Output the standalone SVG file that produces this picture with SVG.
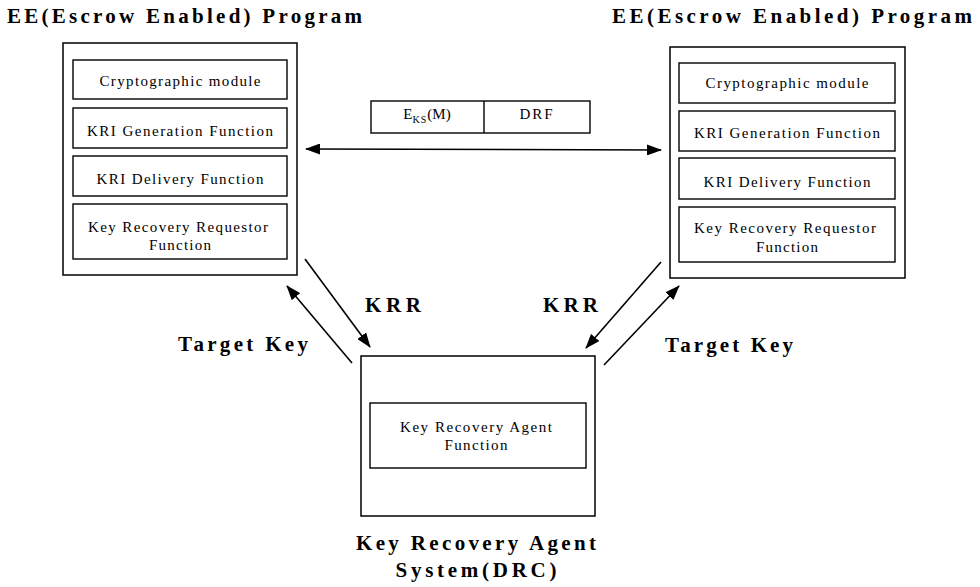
<svg xmlns="http://www.w3.org/2000/svg" width="980" height="587" viewBox="0 0 980 587">
<defs>
<marker id="ah" markerUnits="userSpaceOnUse" markerWidth="15" markerHeight="11" refX="14" refY="5.5" orient="auto-start-reverse">
<path d="M0,0 L15,5.5 L0,11 Z" fill="#000"/>
</marker>
<style>
.box{fill:#fff;stroke:#000;stroke-width:1.5}
.in{fill:none;stroke:#000;stroke-width:1.4}
.t{font-family:"Liberation Serif","Times New Roman",serif;font-size:15px;fill:#000;text-anchor:middle}
.b{font-family:"Liberation Serif","Times New Roman",serif;font-size:21px;font-weight:bold;fill:#000}
.c{stroke:#000;stroke-width:1.6;fill:none;marker-end:url(#ah)}
</style>
</defs>
<rect width="980" height="587" fill="#fff"/>

<g id="ee-left">
<text class="b" x="7" y="23" textLength="355" lengthAdjust="spacing">EE(Escrow Enabled) Program</text>
<rect class="box" x="63" y="43" width="234" height="232"/>
<rect class="in" x="73" y="60" width="214" height="39"/>
<text class="t" x="180" y="86" textLength="161" lengthAdjust="spacing">Cryptographic module</text>
<rect class="in" x="73" y="108" width="214" height="40"/>
<text class="t" x="180" y="136" textLength="186" lengthAdjust="spacing">KRI Generation Function</text>
<rect class="in" x="73" y="156" width="214" height="40"/>
<text class="t" x="180" y="184" textLength="167" lengthAdjust="spacing">KRI Delivery Function</text>
<rect class="in" x="73" y="204" width="214" height="55"/>
<text class="t" x="178" y="232" textLength="180" lengthAdjust="spacing">Key Recovery Requestor</text>
<text class="t" x="180" y="250" textLength="62" lengthAdjust="spacing">Function</text>
</g>

<g id="ee-right">
<text class="b" x="612" y="23" textLength="360" lengthAdjust="spacing">EE(Escrow Enabled) Program</text>
<rect class="box" x="670" y="47" width="235" height="231"/>
<rect class="in" x="679" y="63" width="216" height="40"/>
<text class="t" x="787" y="88" textLength="163" lengthAdjust="spacing">Cryptographic module</text>
<rect class="in" x="679" y="111" width="216" height="40"/>
<text class="t" x="787" y="138" textLength="186" lengthAdjust="spacing">KRI Generation Function</text>
<rect class="in" x="679" y="158" width="216" height="41"/>
<text class="t" x="787" y="187" textLength="167" lengthAdjust="spacing">KRI Delivery Function</text>
<rect class="in" x="679" y="207" width="216" height="55"/>
<text class="t" x="785" y="233" textLength="182" lengthAdjust="spacing">Key Recovery Requestor</text>
<text class="t" x="787" y="252" textLength="62" lengthAdjust="spacing">Function</text>
</g>

<g id="message">
<rect class="in" x="371" y="101" width="219" height="32"/>
<line x1="484" y1="101" x2="484" y2="133" stroke="#000" stroke-width="1.4"/>
<text class="t" x="427" y="119">E<tspan font-size="10" dy="4" letter-spacing="1">KS</tspan><tspan dy="-4">(M)</tspan></text>
<text class="t" x="537" y="119" letter-spacing="2">DRF</text>
</g>

<g id="kra">
<rect class="box" x="361" y="356" width="234" height="160"/>
<rect class="in" x="370" y="403" width="216" height="65"/>
<text class="t" x="476" y="432" textLength="152" lengthAdjust="spacing">Key Recovery Agent</text>
<text class="t" x="476" y="450" textLength="63" lengthAdjust="spacing">Function</text>
<text class="b" x="476" y="550" text-anchor="middle" textLength="240" lengthAdjust="spacing">Key Recovery Agent</text>
<text class="b" x="476" y="577" text-anchor="middle" textLength="161" lengthAdjust="spacing">System(DRC)</text>
</g>

<g id="connectors">
<line class="c" x1="306" y1="149" x2="661" y2="150" marker-start="url(#ah)"/>
<line class="c" x1="305" y1="259" x2="370" y2="347"/>
<line class="c" x1="352" y1="363" x2="287" y2="286"/>
<line class="c" x1="661" y1="262" x2="586" y2="348"/>
<line class="c" x1="604" y1="365" x2="679" y2="286"/>
</g>

<g id="labels">
<text class="b" x="365" y="312" textLength="56" lengthAdjust="spacing">KRR</text>
<text class="b" x="543" y="312" textLength="55" lengthAdjust="spacing">KRR</text>
<text class="b" x="178" y="351" textLength="130" lengthAdjust="spacing">Target Key</text>
<text class="b" x="665" y="352" textLength="128" lengthAdjust="spacing">Target Key</text>
</g>
</svg>
